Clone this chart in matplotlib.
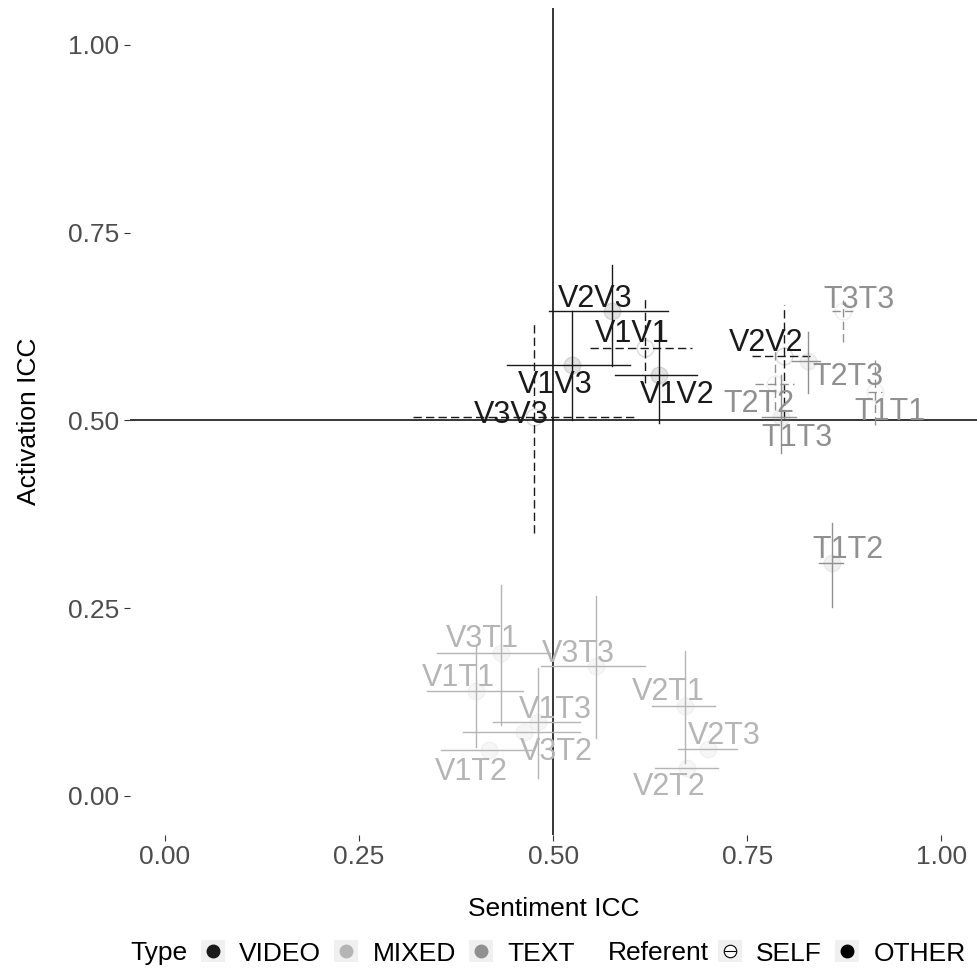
import numpy as np
import matplotlib.pyplot as plt
from matplotlib.lines import Line2D
from matplotlib.patches import Patch
from matplotlib.legend_handler import HandlerTuple

plt.rcParams['font.family'] = ['Liberation Sans', 'DejaVu Sans']

# --- data ---
pairs    = ["V2V3", "V1V1", "V1V3", "V1V2", "V3V3", "V2V2",
            "T3T3", "T2T3", "T2T2", "T1T3", "T1T1", "T1T2",
            "V3T1", "V1T1", "V3T3", "V1T3", "V3T2", "V1T2", "V2T1", "V2T3", "V2T2"]
kind     = ["VIDEO"] * 6 + ["TEXT"] * 6 + ["MIXED"] * 9
referent = ["OTHER", "SELF", "OTHER", "OTHER", "SELF", "SELF",
            "SELF", "OTHER", "SELF", "OTHER", "SELF", "OTHER"] + ["OTHER"] * 9

sent    = [0.576, 0.618, 0.524, 0.636, 0.476, 0.798,
           0.874, 0.828, 0.786, 0.793, 0.914, 0.859,
           0.433, 0.401, 0.555, 0.481, 0.462, 0.417, 0.670, 0.700, 0.673]
sent_lo = [0.495, 0.548, 0.440, 0.580, 0.320, 0.756,
           0.859, 0.808, 0.760, 0.769, 0.906, 0.843,
           0.351, 0.337, 0.485, 0.423, 0.384, 0.355, 0.627, 0.661, 0.631]
sent_hi = [0.648, 0.679, 0.599, 0.685, 0.608, 0.831,
           0.887, 0.844, 0.810, 0.813, 0.924, 0.874,
           0.496, 0.461, 0.619, 0.535, 0.534, 0.475, 0.709, 0.737, 0.712]
act     = [0.645, 0.597, 0.574, 0.561, 0.504, 0.586,
           0.645, 0.579, 0.549, 0.504, 0.538, 0.310,
           0.190, 0.140, 0.173, 0.0985, 0.0848, 0.0609, 0.120, 0.0622, 0.0377]
# lower bounds below 0 fall outside the scale -> bar dropped (nan)
act_lo  = [0.572, 0.550, 0.500, 0.496, 0.350, 0.503,
           0.605, 0.537, 0.514, 0.456, 0.494, 0.252,
           0.0945, 0.0656, 0.0772, 0.024, np.nan, np.nan, 0.0443, np.nan, np.nan]
act_hi  = [0.707, 0.661, 0.645, 0.632, 0.629, 0.654,
           0.660, 0.618, 0.596, 0.561, 0.581, 0.364,
           0.281, 0.199, 0.266, 0.170, np.nan, np.nan, 0.193, np.nan, np.nan]

# label placement (repelled), offsets in pixels from the point, y down
label_nudge = [(-17, -15), (-12, -16), (-17, 17), (18, 17), (-23, -5), (-18, -16),
               (16, -14), (40, 13), (-16, 17), (16, 18), (15, 17), (16, -16),
               (-19, -17), (-18, -16), (-17, -15), (17, -15), (33, 17), (-17, 19),
               (-17, -17), (16, -16), (-18, 16)]

colors = {"VIDEO": "#1a1a1a", "MIXED": "#b5b5b5", "TEXT": "#909090"}
styles = {"SELF": (0, (6, 3)), "OTHER": "-"}

fig = plt.figure(figsize=(9.77, 9.69), dpi=100)
ax = fig.add_axes([130 / 977, 1 - 835 / 969, 847 / 977, 827 / 969])

ax.axvline(0.5, color="black", lw=1.1, zorder=1)
ax.axhline(0.5, color="black", lw=1.1, zorder=1)

for i in range(len(pairs)):
    c = colors[kind[i]]
    ls = styles[referent[i]]
    if referent[i] == "SELF":
        ax.plot(sent[i], act[i], "o", ms=12, mfc="none", mec=c, mew=1, alpha=0.15, zorder=2)
    else:
        ax.plot(sent[i], act[i], "o", ms=12, mfc=c, mec=c, alpha=0.12, zorder=2)
    ax.plot([sent_lo[i], sent_hi[i]], [act[i], act[i]], color=c, lw=1.0, ls=ls, zorder=3)
    if not np.isnan(act_lo[i]):
        ax.plot([sent[i], sent[i]], [act_lo[i], act_hi[i]], color=c, lw=1.0, ls=ls, zorder=3)

for i, name in enumerate(pairs):
    dx, dy = label_nudge[i]
    ax.annotate(name, (sent[i], act[i]), xytext=(dx * 0.72, -dy * 0.72 - 7.9),
                textcoords="offset points", ha="center", va="baseline",
                fontsize=22, color=colors[kind[i]], zorder=4)

ax.set_xlim(-0.045, 1.046)
ax.set_ylim(-0.052, 1.049)
ticks = [0.0, 0.25, 0.5, 0.75, 1.0]
ax.set_xticks(ticks)
ax.set_yticks(ticks)
ax.set_xticklabels(["0.00", "0.25", "0.50", "0.75", "1.00"])
ax.set_yticklabels(["0.00", "0.25", "0.50", "0.75", "1.00"])
ax.tick_params(colors="#333333", labelcolor="#4d4d4d", labelsize=19, length=4, width=0.8)
for s in ax.spines.values():
    s.set_visible(False)
ax.set_xlabel("Sentiment ICC", fontsize=19, labelpad=20)
ax.set_ylabel("Activation ICC", fontsize=19, labelpad=20)

# --- legend along the bottom ---
key_bg = "#f0f0f0"
type_handles = [(Patch(facecolor=key_bg, edgecolor="none"),
                 Line2D([], [], ls="none", marker="o", ms=9, color=colors[k]))
                for k in ["VIDEO", "MIXED", "TEXT"]]
ref_handles = [(Patch(facecolor=key_bg, edgecolor="none"),
                Line2D([], [], ls="none", marker="o", ms=9, mfc="white", mec="black", mew=0.8),
                Line2D([], [], ls="none", marker="_", ms=9, mec="black", mew=0.8)),
               (Patch(facecolor=key_bg, edgecolor="none"),
                Line2D([], [], ls="none", marker="o", ms=9, color="black"))]

leg_kw = dict(loc="center left", frameon=False, fontsize=19, handlelength=0.9, handleheight=0.9,
              handletextpad=0.55, columnspacing=0.5, borderpad=0, borderaxespad=0,
              handler_map={tuple: HandlerTuple(ndivide=1, pad=0)})
ly = 1 - 953 / 969
fig.text(130 / 977, ly, "Type", fontsize=19, va="center", ha="left")
l1 = fig.legend(type_handles, ["VIDEO", "MIXED", "TEXT"], ncol=3,
                bbox_to_anchor=(201 / 977, ly), **leg_kw)
fig.text(608 / 977, ly, "Referent", fontsize=19, va="center", ha="left")
l2 = fig.legend(ref_handles, ["SELF", "OTHER"], ncol=2,
                bbox_to_anchor=(718 / 977, ly), **leg_kw)

fig.savefig("out.png", dpi=100)
